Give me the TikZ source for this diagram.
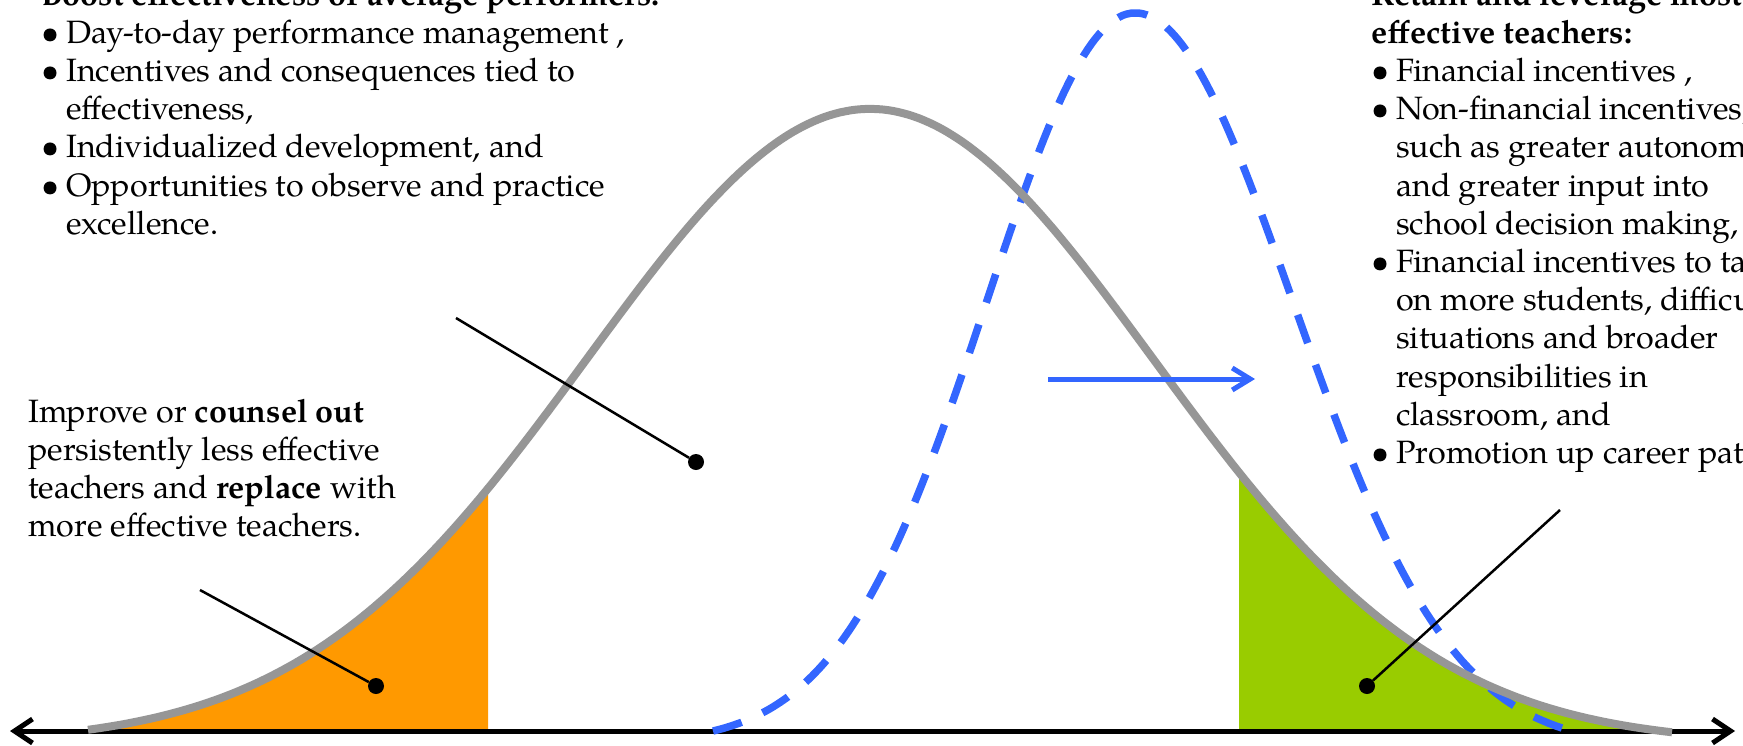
\documentclass[tikz,border=0pt]{standalone}
\usepackage{fontspec}
\setmainfont{texgyrepagella}[Extension=.otf, UprightFont=*-regular, BoldFont=*-bold, ItalicFont=*-italic, BoldItalicFont=*-bolditalic]
\usetikzlibrary{arrows.meta}
\definecolor{curvegray}{RGB}{150,150,150}
\definecolor{bluedash}{RGB}{51,102,255}
\definecolor{orangefill}{RGB}{255,153,0}
\definecolor{greenfill}{RGB}{153,204,0}
\newcommand\bodyfnt{\fontsize{32.3}{38.2}\selectfont}
\newcommand\bul{\makebox[25pt][l]{\textbullet}}
\begin{document}
\begin{tikzpicture}[x=1pt,y=-1pt,
  declare function={gg(\t)=731-634.7*(exp(-0.5*pow((\t-870)/283,2))-0.02);
                    bb(\t)=(\t<1135)*(731-730.5*(exp(-0.5*pow((\t-1135)/148,2))-0.01716))
                          +(\t>=1135)*(731-734*(exp(-0.5*pow((\t-1135)/158,2))-0.0218));},
  gaussgray/.style={curvegray, line width=8pt, line join=round},
  gaussblue/.style={bluedash, line width=7.5pt, dash pattern=on 30pt off 23pt},
  axisline/.style={line width=5pt, {Straight Barb[length=18pt,width=24pt]}-{Straight Barb[length=18pt,width=24pt]}},
  pointer/.style={line width=2.5pt},
  dotmark/.style={circle, fill=black, inner sep=0pt, minimum size=16pt},
  shiftarrow/.style={bluedash, line width=5pt, -{Straight Barb[length=18pt,width=22pt]}},
  textblock/.style={anchor=base west, inner sep=0pt, font=\bodyfnt},
]
\useasboundingbox (0,0) rectangle (1743,745);
\clip (0,0) rectangle (1743,745);
% shaded tails
\fill[orangefill] (88,731) -- plot[domain=88:488,samples=80] (\x,{gg(\x)}) -- (488,731) -- cycle;
\fill[greenfill] (1239,731) -- plot[domain=1239:1672,samples=80] (\x,{gg(\x)}) -- cycle;
% axis
\coordinate (axL) at (10,731);
\coordinate (axR) at (1735,731);
\draw[axisline] (axL) -- (axR);
% curves
\draw[gaussblue] plot[domain=713:1576,samples=220] (\x,{bb(\x)});
\draw[gaussgray] plot[domain=88:1672,samples=300] (\x,{gg(\x)});
% pointers
\node[dotmark] (dotL) at (376,686) {};
\node[dotmark] (dotM) at (696,462) {};
\node[dotmark] (dotR) at (1367,686) {};
\coordinate (startL) at (200,590);
\coordinate (startM) at (456,318);
\coordinate (startR) at (1560,510);
\draw[pointer] (startL) -- (dotL);
\draw[pointer] (startM) -- (dotM);
\draw[pointer] (startR) -- (dotR);
% shift arrow
\coordinate (shiftA) at (1048,379);
\coordinate (shiftB) at (1255,379);
\draw[shiftarrow] (shiftA) -- (shiftB);
% texts
\node[textblock] (avgtext) at (41,5) {\begin{tabular}[t]{@{}l@{}l@{}}
\multicolumn{2}{@{}l@{}}{\textbf{Boost effectiveness of average performers:}}\\
\bul & Day-to-day performance management ,\\
\bul & Incentives and consequences tied to\\
 & effectiveness,\\
\bul & Individualized development, and\\
\bul & Opportunities to observe and practice\\
 & excellence.
\end{tabular}};
\node[textblock] (toptext) at (1371,5) {\begin{tabular}[t]{@{}l@{}l@{}}
\multicolumn{2}{@{}l@{}}{\textbf{Retain and leverage most}}\\
\multicolumn{2}{@{}l@{}}{\textbf{effective teachers:}}\\
\bul & Financial incentives ,\\
\bul & Non-financial incentives,\\
 & such as greater autonomy\\
 & and greater input into\\
 & school decision making,\\
\bul & Financial incentives to take\\
 & on more students, difficult\\
 & situations and broader\\
 & responsibilities in\\
 & classroom, and\\
\bul & Promotion up career path
\end{tabular}};
\node[textblock] (lowtext) at (28,422) {\begin{tabular}[t]{@{}l@{}}
Improve or \textbf{counsel out}\\
persistently less effective\\
teachers and \textbf{replace} with\\
more effective teachers.
\end{tabular}};
\end{tikzpicture}
\end{document}
